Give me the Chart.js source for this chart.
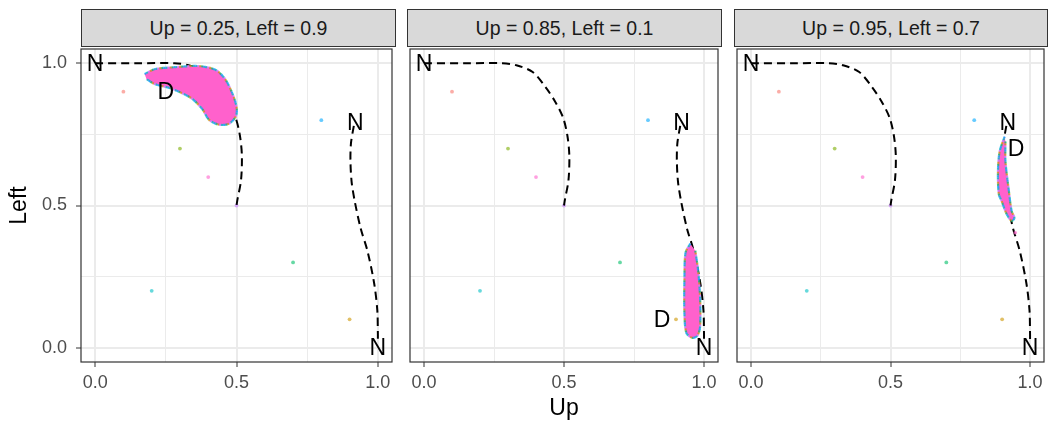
<!DOCTYPE html>
<html>
<head>
<meta charset="utf-8">
<script src="https://cdn.jsdelivr.net/npm/chart.js@4.4.1/dist/chart.umd.min.js"></script>
<style>
  body { margin: 0; background: #fff; width: 1052px; height: 427px; position: relative; overflow: hidden;
         font-family: "Liberation Sans", Arial, sans-serif; }
  .strip { position: absolute; top: 9px; height: 38px; box-sizing: border-box; background: #d9d9d9;
           border: 1px solid #333; color: #1a1a1a; font-size: 19.5px; text-align: center; line-height: 36px; }
  canvas { position: absolute; top: 45px; }
</style>
</head>
<body>
<div class="strip" id="s0" style="left:81px;width:315px"></div>
<div class="strip" id="s1" style="left:407px;width:315px"></div>
<div class="strip" id="s2" style="left:734px;width:314px"></div>
<canvas id="c0" width="396" height="382" style="left:0px"></canvas>
<canvas id="c1" width="316" height="382" style="left:406px"></canvas>
<canvas id="c2" width="315" height="382" style="left:733px"></canvas>
<script>
// facet titles and the D point of each facet
const panelTitles = ['Up = 0.25, Left = 0.9', 'Up = 0.85, Left = 0.1', 'Up = 0.95, Left = 0.7'];
const dUp = [0.25, 0.85, 0.95];
const dLeft = [0.9, 0.1, 0.7];

// N labels (same in every facet)
const nUp = [0, 0.92, 1];
const nLeft = [1, 0.79, 0];

// dashed curves
const curveAUp = [0, 0.15, 0.28, 0.33, 0.388, 0.434, 0.469, 0.497, 0.512, 0.519, 0.516, 0.503, 0.5];
const curveALeft = [1, 1, 1, 0.993, 0.969, 0.916, 0.864, 0.808, 0.746, 0.676, 0.589, 0.519, 0.5];
const curveBUp = [0.915, 0.905, 0.903, 0.907, 0.918, 0.939, 0.963, 0.987, 0.998, 1.0, 1.0];
const curveBLeft = [0.78, 0.72, 0.66, 0.585, 0.516, 0.42, 0.341, 0.226, 0.132, 0.05, 0.02];

// lone starting points
const strayUp = [0.1, 0.3, 0.4, 0.8, 0.2, 0.7, 0.9, 0.5];
const strayLeft = [0.9, 0.7, 0.6, 0.8, 0.2, 0.3, 0.1, 0.5];
const strayColors = ['#F8766D', '#7CAE00', '#FF61CC', '#00A9FF', '#00BFC4', '#00BE67', '#CD9600', '#C77CFF'];

// outline of the dense pink cloud in each facet
const cloudUp = [
  [0.175, 0.21, 0.28, 0.368, 0.427, 0.462, 0.49, 0.501, 0.497, 0.473, 0.438, 0.403, 0.378, 0.343, 0.298, 0.263, 0.21, 0.182],
  [0.951, 0.934, 0.93, 0.93, 0.937, 0.958, 0.976, 0.986, 0.986, 0.979, 0.969],
  [0.909, 0.891, 0.885, 0.888, 0.898, 0.916, 0.934, 0.944, 0.934, 0.923, 0.912, 0.912]
];
const cloudLeft = [
  [0.962, 0.979, 0.986, 0.99, 0.976, 0.941, 0.882, 0.84, 0.812, 0.787, 0.784, 0.801, 0.84, 0.875, 0.899, 0.913, 0.927, 0.944],
  [0.366, 0.334, 0.237, 0.122, 0.052, 0.035, 0.042, 0.073, 0.178, 0.272, 0.341],
  [0.742, 0.69, 0.62, 0.54, 0.516, 0.47, 0.446, 0.456, 0.481, 0.561, 0.655, 0.725]
];
const extraUp = [[], [], [0.947]];
const extraLeft = [[], [], [0.404]];
// colours speckled along the cloud's edge
const edgeColors = ['rgba(0,169,255,0.8)', 'rgba(0,190,103,0.75)', 'rgba(205,150,0,0.7)', 'rgba(199,124,255,0.8)', 'rgba(0,191,196,0.8)'];

const majorTicks = [0, 0.5, 1];
const minorTicks = [0.25, 0.75];

const pts = (xs, ys) => xs.map((v, i) => ({x: v, y: ys[i]}));
const fontFam = '"Liberation Sans", Arial, sans-serif';

const frame = {
  id: 'frame',
  afterDraw(chart) {
    const a = chart.chartArea, c = chart.ctx;
    c.save();
    c.strokeStyle = '#333';
    c.lineWidth = 1.2;
    c.strokeRect(a.left, a.top, a.right - a.left, a.bottom - a.top);
    c.restore();
  }
};

const textMarks = {
  id: 'textMarks',
  afterDatasetsDraw(chart, args, opts) {
    const c = chart.ctx, x = chart.scales.x, y = chart.scales.y;
    c.save();
    c.font = '23px ' + fontFam;
    c.fillStyle = '#000';
    c.textAlign = 'center';
    c.textBaseline = 'middle';
    opts.items.forEach(it => c.fillText(it.t, x.getPixelForValue(it.x), y.getPixelForValue(it.y) + 1));
    c.restore();
  }
};

function axisTicks(axis) {
  axis.ticks = majorTicks.concat(minorTicks).map(v => ({value: v}));
}
const isMajor = v => majorTicks.some(m => Math.abs(m - v) < 1e-9);

function makePanel(i) {
  const first = i === 0;
  const items = nUp.map((v, k) => ({x: v, y: nLeft[k], t: 'N'}));
  items.push({x: dUp[i], y: dLeft[i], t: 'D'});
  document.getElementById('s' + i).textContent = panelTitles[i];

  const cloud = pts(cloudUp[i], cloudLeft[i]);
  const edges = edgeColors.map((col, k) => ({
    data: cloud, showLine: true, fill: false, tension: 0.3,
    borderColor: col, borderWidth: 2.2, borderDash: [2, 8], borderDashOffset: k * 2,
    pointRadius: 0, order: 0
  }));

  new Chart(document.getElementById('c' + i), {
    type: 'scatter',
    data: {
      datasets: [
        {
          data: cloud,
          showLine: true, fill: 'shape', tension: 0.3,
          backgroundColor: 'rgb(255,97,204)', borderColor: 'rgba(255,97,204,0.9)', borderWidth: 1,
          pointRadius: 0, order: 1
        },
        ...edges,
        {
          data: pts(extraUp[i], extraLeft[i]),
          backgroundColor: 'rgba(255,97,204,0.7)', borderWidth: 0, pointRadius: 1.8, order: 1
        },
        {
          data: pts(curveAUp, curveALeft),
          showLine: true, tension: 0.3, borderColor: '#000', borderWidth: 2, borderDash: [8, 5],
          pointRadius: 0, order: 2
        },
        {
          data: pts(curveBUp, curveBLeft),
          showLine: true, tension: 0.3, borderColor: '#000', borderWidth: 2, borderDash: [8, 5],
          pointRadius: 0, order: 2
        },
        {
          data: pts(strayUp, strayLeft),
          backgroundColor: strayColors.map(c => c + '99'), borderWidth: 0, pointRadius: 1.9, order: 3
        }
      ]
    },
    options: {
      responsive: false,
      animation: false,
      layout: {padding: {top: 1, right: 1, left: first ? 0 : 1, bottom: 0}},
      plugins: {
        legend: {display: false},
        tooltip: {enabled: false},
        textMarks: {items: items}
      },
      scales: {
        x: {
          type: 'linear', min: -0.05, max: 1.05,
          afterBuildTicks: axisTicks,
          afterFit: a => { a.height = 65; a.paddingLeft = 0; a.paddingRight = 0; },
          border: {display: false},
          grid: {
            color: '#ebebeb',
            lineWidth: ctx => isMajor(ctx.tick.value) ? 2 : 1,
            tickColor: ctx => isMajor(ctx.tick.value) ? '#333' : 'rgba(0,0,0,0)',
            tickLength: 5, tickWidth: 1
          },
          ticks: {
            autoSkip: false, maxRotation: 0, padding: 5, color: '#4d4d4d',
            font: {size: 18, family: fontFam},
            callback: v => isMajor(v) ? v.toFixed(1) : ''
          },
          title: {
            display: i === 1, text: 'Up', color: '#000',
            font: {size: 23, family: fontFam}, padding: {top: 0, bottom: 5}
          }
        },
        y: {
          type: 'linear', min: -0.05, max: 1.05,
          afterBuildTicks: axisTicks,
          afterFit: a => { a.width = first ? 81 : 0; a.paddingTop = 0; a.paddingBottom = 0; },
          border: {display: false},
          grid: {
            color: '#ebebeb',
            lineWidth: ctx => isMajor(ctx.tick.value) ? 2 : 1,
            drawTicks: first,
            tickColor: ctx => isMajor(ctx.tick.value) ? '#333' : 'rgba(0,0,0,0)',
            tickLength: 5, tickWidth: 1
          },
          ticks: {
            display: first, autoSkip: false, padding: 9, color: '#4d4d4d',
            font: {size: 18, family: fontFam},
            callback: v => isMajor(v) ? v.toFixed(1) : ''
          },
          title: {
            display: first, text: 'Left', color: '#000',
            font: {size: 23, family: fontFam}, padding: {top: 6, bottom: 0}
          }
        }
      }
    },
    plugins: [frame, textMarks]
  });
}

[0, 1, 2].forEach(makePanel);
</script>
</body>
</html>
